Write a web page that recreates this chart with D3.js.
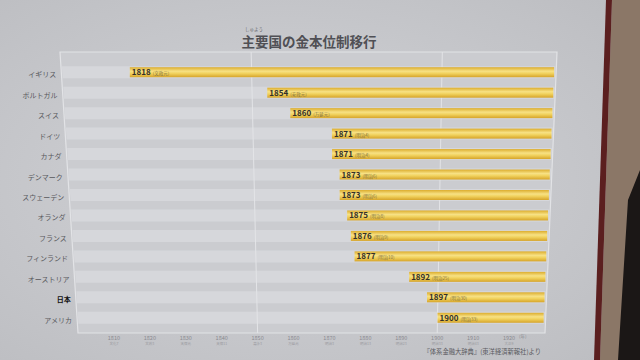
<!DOCTYPE html>
<html><head><meta charset="utf-8">
<script src="https://cdn.jsdelivr.net/npm/d3@7"></script>
<style>
html,body{margin:0;padding:0;background:#c6c7cb;}
svg{display:block;font-family:"Noto Sans CJK JP","Noto Sans",sans-serif;}
</style></head><body>
<svg id="c" width="640" height="360"></svg>
<script>
const categories = ["イギリス","ポルトガル","スイス","ドイツ","カナダ","デンマーク","スウェーデン","オランダ","フランス","フィンランド","オーストリア","日本","アメリカ"];
const years = [1818,1854,1860,1871,1871,1873,1873,1875,1876,1877,1892,1897,1900];
const eras = ["文政元","安政元","万延元","明治4","明治4","明治6","明治6","明治8","明治9","明治10","明治25","明治30","明治33"];
const tickYears = [1810,1820,1830,1840,1850,1860,1870,1880,1890,1900,1910,1920];
const tickEras = ["文化7","文政3","天保元","天保11","嘉永3","万延元","明治3","明治13","明治23","明治33","明治43","大正9"];
const gridYears = [1850,1900];
const title = "主要国の金本位制移行";
const furigana = "しゅよう";
const source = "『体系金融大辞典』(東洋経済新報社)より";

(function(){
const svg = d3.select("#c");
const defs = svg.append("defs");

const bg = defs.append("radialGradient").attr("id","bg").attr("cx","45%").attr("cy","50%").attr("r","70%");
bg.append("stop").attr("offset","0%").attr("stop-color","#d3d4d8");
bg.append("stop").attr("offset","100%").attr("stop-color","#bdbec2");
svg.append("rect").attr("width",640).attr("height",360).attr("fill","url(#bg)");

const gold = defs.append("linearGradient").attr("id","gold").attr("x1",0).attr("y1",0).attr("x2",0).attr("y2",1);
gold.append("stop").attr("offset","0%").attr("stop-color","#dcad2e");
gold.append("stop").attr("offset","40%").attr("stop-color","#f7e184");
gold.append("stop").attr("offset","62%").attr("stop-color","#f1d25e");
gold.append("stop").attr("offset","100%").attr("stop-color","#d6a42a");

// right frame of the display
svg.append("polygon").attr("points","612,0 640,0 640,360 600,360").attr("fill","#8b7767");
svg.append("polygon").attr("points","628,200 640,170 640,360 618,360").attr("fill","#1b1716");
svg.append("polygon").attr("points","606,0 612,0 600,360 594,360").attr("fill","#5b1f1f");

const pTop = 52, pBottom = 333;
const Lx = y => 60 + (y - pTop) * 18 / (pBottom - pTop);
const Rx = y => 557 - (y - pTop) * 12 / (pBottom - pTop);
const xAt = y => d3.scaleLinear().domain([1800,1930]).range([Lx(y), Rx(y)]);
const yScale = d3.scaleBand().domain(categories).range([62, 328]);
const pts = a => a.map(p=>p.join(",")).join(" ");

svg.append("polygon")
  .attr("points", pts([[Lx(pTop),pTop],[Rx(pTop),pTop],[Rx(pBottom),pBottom],[Lx(pBottom),pBottom]]))
  .attr("fill","#cbccd0").attr("stroke","#e2e3e6").attr("stroke-width",1.2);

categories.forEach(c => {
  const yc = yScale(c) + yScale.bandwidth()/2;
  const y0 = yc - 6, y1 = yc + 6;
  svg.append("polygon")
    .attr("points", pts([[Lx(y0)+1,y0],[Rx(y0)-1,y0],[Rx(y1)-1,y1],[Lx(y1)+1,y1]]))
    .attr("fill","#d6d7db");
});

gridYears.forEach(g => {
  svg.append("line")
    .attr("x1", xAt(pTop)(g)).attr("y1", pTop)
    .attr("x2", xAt(pBottom)(g)).attr("y2", pBottom)
    .attr("stroke","#e3e4e7").attr("stroke-width",1);
});

categories.forEach((c,i) => {
  const yc = yScale(c) + yScale.bandwidth()/2;
  const x = xAt(yc);
  const h = 10;
  svg.append("rect")
    .attr("x", x(years[i])).attr("y", yc - h/2)
    .attr("width", x(1930) - 2 - x(years[i])).attr("height", h)
    .attr("fill","url(#gold)");
  const t = svg.append("text")
    .attr("x", x(years[i]) + 2).attr("y", yc + 3)
    .attr("font-size", 8).attr("fill","#33302a");
  t.append("tspan").attr("font-weight","bold").text(years[i]);
  t.append("tspan").attr("dx",2).attr("font-size",4.5).attr("fill","#857440").text("(" + eras[i] + ")");
  svg.append("text")
    .attr("x", Lx(yc) - 5).attr("y", yc + 5)
    .attr("text-anchor","end")
    .attr("font-size", 7)
    .attr("font-weight", c === "日本" ? "bold" : "normal")
    .attr("fill", c === "日本" ? "#111" : "#58585c")
    .text(c);
});

const xb = xAt(pBottom);
tickYears.forEach((t,i) => {
  svg.append("text").attr("x", xb(t)).attr("y", 340)
    .attr("text-anchor","middle").attr("font-size",5.5).attr("fill","#8a8a90").text(t);
  svg.append("text").attr("x", xb(t)).attr("y", 344.5)
    .attr("text-anchor","middle").attr("font-size",3.5).attr("fill","#9a9aa0").text(tickEras[i]);
});
svg.append("text").attr("x", xb(1920) + 10).attr("y", 338)
  .attr("font-size",4.5).attr("fill","#8a8a90").text("(年)");

svg.append("text").attr("x", 309).attr("y", 47).attr("text-anchor","middle")
  .attr("font-size", 13.5).attr("font-weight","bold").attr("fill","#505055").text(title);
svg.append("text").attr("x", 254).attr("y", 30.5).attr("text-anchor","middle")
  .attr("font-size", 4.5).attr("fill","#6a6a70").text(furigana);

svg.append("text").attr("x", 541).attr("y", 354).attr("text-anchor","end")
  .attr("font-size", 6.3).attr("fill","#5a5a60").text(source);
})();
</script>
</body></html>
